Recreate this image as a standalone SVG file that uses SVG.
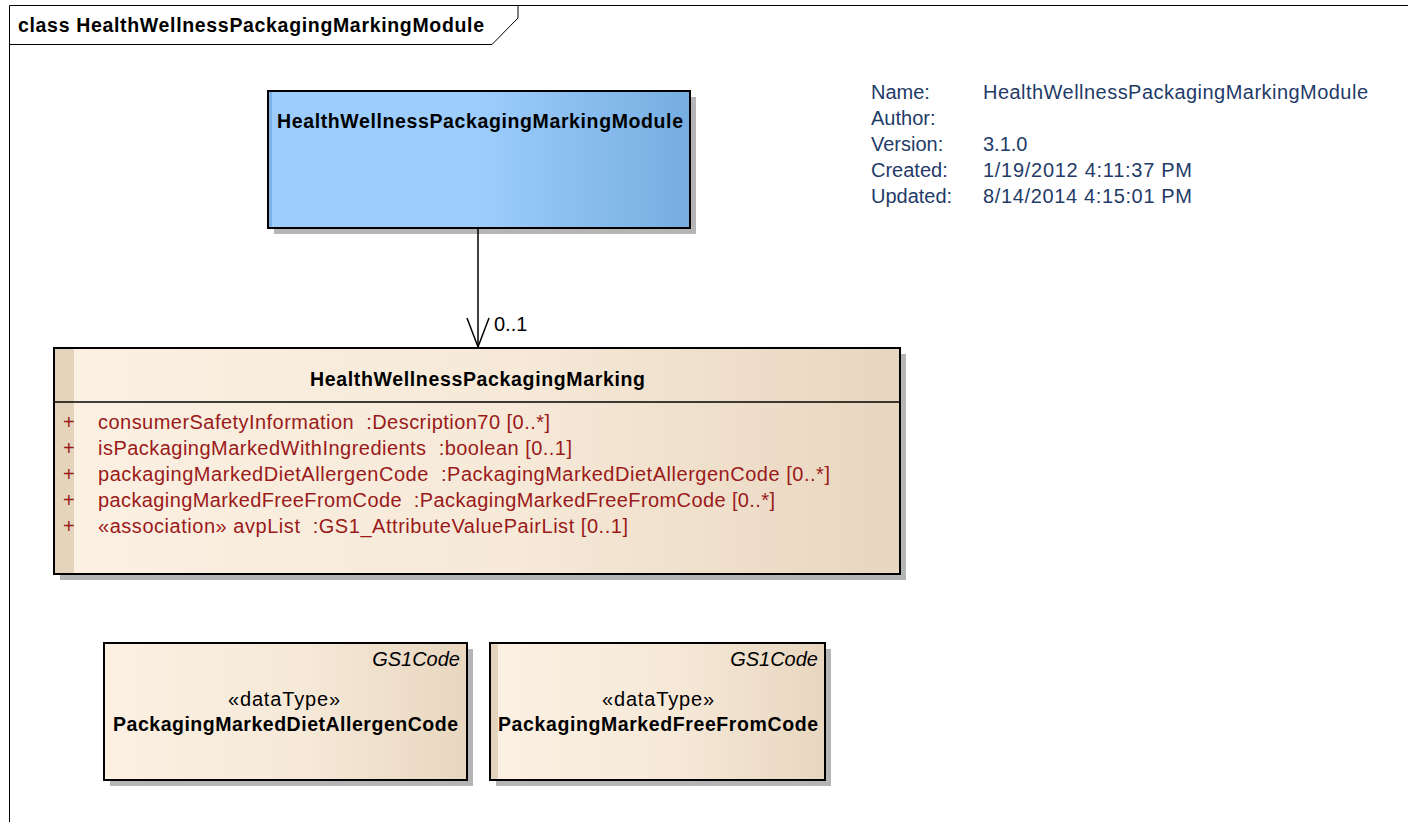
<svg xmlns="http://www.w3.org/2000/svg" width="1408" height="822" viewBox="0 0 1408 822">
<defs>
<linearGradient id="gBlue" x1="0" y1="0" x2="1" y2="0">
<stop offset="0" stop-color="#9dcdfd"/>
<stop offset="0.5" stop-color="#9ccdfd"/>
<stop offset="1" stop-color="#76ade0"/>
</linearGradient>
<linearGradient id="gTan" x1="0" y1="0" x2="1" y2="0">
<stop offset="0" stop-color="#fbf0e2"/>
<stop offset="0.55" stop-color="#f6e9d8"/>
<stop offset="1" stop-color="#e8d6bf"/>
</linearGradient>
<style>
.t{font-family:"Liberation Sans",Arial,sans-serif;font-size:20px;fill:#000}
.b{font-weight:bold;font-size:19.5px}
.meta{font-family:"Liberation Sans",Arial,sans-serif;font-size:20px;fill:#1f3b68}
.attr{font-family:"Liberation Sans",Arial,sans-serif;font-size:20px;fill:#9a1a1a}
.box{stroke:#000;stroke-width:2}
.shadow{fill:#b5b5b5}
.frame{fill:none;stroke:#000;stroke-width:1}
</style>
</defs>
<rect width="1408" height="822" fill="#fff"/>
<g id="frame">
<path class="frame" d="M9.5,822 V5.5 H1408"/>
<path class="frame" d="M9.5,44.5 H492 L518,18 V5.5"/>
<text class="t b" x="18" y="32" textLength="466">class HealthWellnessPackagingMarkingModule</text>
</g>
<g id="meta">
<text class="meta" x="871" y="99">Name:</text>
<text class="meta" x="983" y="99" textLength="385">HealthWellnessPackagingMarkingModule</text>
<text class="meta" x="871" y="125">Author:</text>
<text class="meta" x="871" y="151">Version:</text>
<text class="meta" x="983" y="151">3.1.0</text>
<text class="meta" x="871" y="177">Created:</text>
<text class="meta" x="983" y="177" textLength="209">1/19/2012 4:11:37 PM</text>
<text class="meta" x="871" y="203">Updated:</text>
<text class="meta" x="983" y="203" textLength="209">8/14/2014 4:15:01 PM</text>
</g>
<g id="node-module">
<rect class="shadow" x="274" y="97" width="422" height="137"/>
<rect x="268" y="91" width="422" height="137" fill="url(#gBlue)"/>
<rect x="269" y="92" width="3" height="135" fill="#7fb2e4"/>
<rect class="box" x="268" y="91" width="422" height="137" fill="none"/>
<text class="t b" x="277" y="128" textLength="406">HealthWellnessPackagingMarkingModule</text>
</g>
<g id="node-marking">
<rect class="shadow" x="60" y="354" width="846" height="226"/>
<rect x="54" y="348" width="846" height="226" fill="url(#gTan)"/>
<rect x="55" y="349" width="19" height="224" fill="#e5d4bc"/>
<rect class="box" x="54" y="348" width="846" height="226" fill="none"/>
<line x1="54" y1="402" x2="900" y2="402" stroke="#000" stroke-width="1.5"/>
<text class="t b" x="310" y="386" textLength="335">HealthWellnessPackagingMarking</text>
<text class="attr" x="63" y="429">+</text>
<text class="attr" x="98" y="429" xml:space="preserve" textLength="452">consumerSafetyInformation  :Description70 [0..*]</text>
<text class="attr" x="63" y="455">+</text>
<text class="attr" x="98" y="455" xml:space="preserve" textLength="474">isPackagingMarkedWithIngredients  :boolean [0..1]</text>
<text class="attr" x="63" y="481">+</text>
<text class="attr" x="98" y="481" xml:space="preserve" textLength="732">packagingMarkedDietAllergenCode  :PackagingMarkedDietAllergenCode [0..*]</text>
<text class="attr" x="63" y="507">+</text>
<text class="attr" x="98" y="507" xml:space="preserve" textLength="677">packagingMarkedFreeFromCode  :PackagingMarkedFreeFromCode [0..*]</text>
<text class="attr" x="63" y="533">+</text>
<text class="attr" x="98" y="533" xml:space="preserve" textLength="530">«association» avpList  :GS1_AttributeValuePairList [0..1]</text>
</g>
<g id="node-diet">
<rect class="shadow" x="110" y="649" width="363" height="137"/>
<rect x="104" y="643" width="363" height="137" fill="url(#gTan)"/>
<rect class="box" x="104" y="643" width="363" height="137" fill="none"/>
<text class="t" x="460" y="666" text-anchor="end" font-style="italic">GS1Code</text>
<text class="t" x="284" y="706" text-anchor="middle" textLength="112">«dataType»</text>
<text class="t b" x="113" y="731" textLength="345">PackagingMarkedDietAllergenCode</text>
</g>
<g id="node-freefrom">
<rect class="shadow" x="496" y="649" width="335" height="137"/>
<rect x="490" y="643" width="335" height="137" fill="url(#gTan)"/>
<rect x="491" y="644" width="7" height="135" fill="#e5d4bc"/>
<rect class="box" x="490" y="643" width="335" height="137" fill="none"/>
<text class="t" x="818" y="666" text-anchor="end" font-style="italic">GS1Code</text>
<text class="t" x="658" y="706" text-anchor="middle" textLength="112">«dataType»</text>
<text class="t b" x="498" y="731" textLength="320">PackagingMarkedFreeFromCode</text>
</g>
<g id="connectors">
<line x1="478" y1="228" x2="478" y2="347" stroke="#000" stroke-width="1.5"/>
<polyline points="467,318 478,347 489,318" fill="none" stroke="#000" stroke-width="1.5"/>
<text class="t" x="494" y="331">0..1</text>
</g>
</svg>
